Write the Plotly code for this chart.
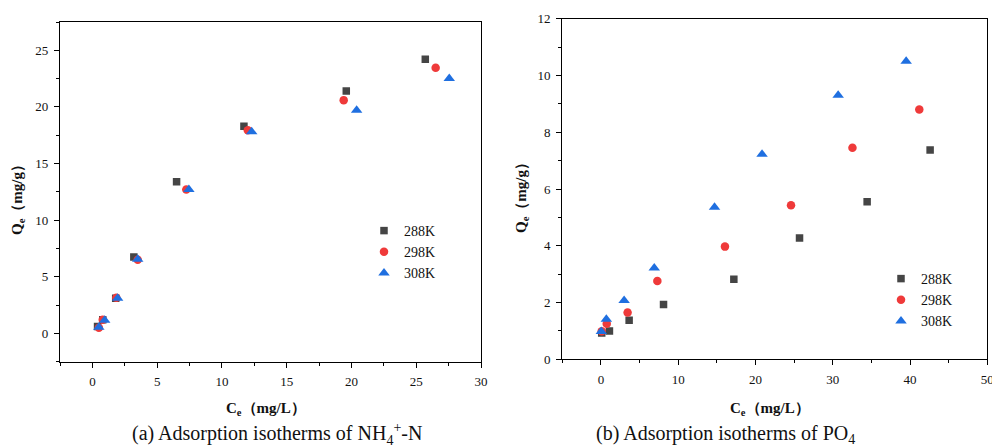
import plotly.graph_objects as go

# ---------------- data ----------------
series_names = ["288K", "298K", "308K"]

# (a) NH4+-N
nh4_ce_288 = [0.4, 0.8, 1.8, 3.2, 6.5, 11.7, 19.6, 25.7]
nh4_qe_288 = [0.6, 1.2, 3.1, 6.75, 13.4, 18.3, 21.4, 24.2]
nh4_ce_298 = [0.5, 0.8, 1.85, 3.5, 7.25, 12.0, 19.4, 26.5]
nh4_qe_298 = [0.5, 1.2, 3.15, 6.5, 12.7, 17.95, 20.6, 23.45]
nh4_ce_308 = [0.5, 0.95, 1.95, 3.5, 7.45, 12.3, 20.4, 27.55]
nh4_qe_308 = [0.55, 1.15, 3.1, 6.55, 12.7, 17.8, 19.7, 22.5]

# (b) PO4
po4_ce_288 = [0.1, 1.1, 3.65, 8.1, 17.2, 25.7, 34.45, 42.6]
po4_qe_288 = [0.93, 1.0, 1.38, 1.93, 2.82, 4.27, 5.55, 7.37]
po4_ce_298 = [0.1, 0.75, 3.45, 7.3, 16.05, 24.6, 32.55, 41.2]
po4_qe_298 = [0.99, 1.25, 1.65, 2.76, 3.97, 5.43, 7.45, 8.8]
po4_ce_308 = [0.05, 0.7, 3.0, 6.9, 14.7, 20.85, 30.7, 39.5]
po4_qe_308 = [0.98, 1.41, 2.07, 3.22, 5.36, 7.22, 9.3, 10.5]

colors = ["#454545", "#ef3a3a", "#1f6fe0"]
symbols = ["square", "circle", "triangle-up"]
sizes = [7.5, 8.5, 10]

W, H = 992, 448
FONT = "Liberation Serif, Times New Roman, serif"


def px_x(p):
    return p / W


def px_y(p):
    return 1 - p / H


fig = go.Figure()

left = [(nh4_ce_288, nh4_qe_288), (nh4_ce_298, nh4_qe_298), (nh4_ce_308, nh4_qe_308)]
right = [(po4_ce_288, po4_qe_288), (po4_ce_298, po4_qe_298), (po4_ce_308, po4_qe_308)]

for i, (xs, ys) in enumerate(left):
    fig.add_trace(go.Scatter(
        x=xs, y=ys, mode="markers", name=series_names[i],
        marker=dict(symbol=symbols[i], color=colors[i], size=sizes[i], line=dict(width=0)),
        xaxis="x", yaxis="y", legend="legend"))

for i, (xs, ys) in enumerate(right):
    fig.add_trace(go.Scatter(
        x=xs, y=ys, mode="markers", name=series_names[i],
        marker=dict(symbol=symbols[i], color=colors[i], size=sizes[i], line=dict(width=0)),
        xaxis="x2", yaxis="y2", legend="legend2"))

axis_common = dict(
    showgrid=False, zeroline=False, showline=True, linecolor="black", linewidth=1.2,
    mirror=True, ticks="outside", ticklen=5, tickwidth=1, tickcolor="black",
    tickfont=dict(family=FONT, size=13, color="#111"), automargin=False,
    ticklabelstandoff=3, ticklabeloverflow="allow",
)

fig.update_layout(
    width=W, height=H, template="none",
    paper_bgcolor="white", plot_bgcolor="white",
    margin=dict(l=0, r=0, t=0, b=0),
    showlegend=True,
    xaxis=dict(axis_common, domain=[px_x(60), px_x(481)], range=[-2.5, 30], tick0=0, dtick=5,
               minor=dict(dtick=2.5, ticklen=3, ticks="outside", tickcolor="black"), anchor="y"),
    yaxis=dict(axis_common, domain=[px_y(361.7), px_y(22)], range=[-2.5, 27.5], tick0=0, dtick=5,
               minor=dict(dtick=2.5, ticklen=3, ticks="outside", tickcolor="black"), anchor="x"),
    xaxis2=dict(axis_common, domain=[px_x(562.3), px_x(987.3)], range=[-5, 50], tick0=0, dtick=10,
                minor=dict(dtick=5, ticklen=3, ticks="outside", tickcolor="black"), anchor="y2"),
    yaxis2=dict(axis_common, domain=[px_y(359.3), px_y(18.7)], range=[0, 12], tick0=0, dtick=2,
                minor=dict(dtick=1, ticklen=3, ticks="outside", tickcolor="black"), anchor="x2"),
    legend=dict(x=px_x(364), y=px_y(215), xanchor="left", yanchor="top",
                bgcolor="rgba(0,0,0,0)", borderwidth=0, tracegroupgap=0,
                font=dict(family=FONT, size=14, color="#111")),
    legend2=dict(x=px_x(881), y=px_y(263), xanchor="left", yanchor="top",
                 bgcolor="rgba(0,0,0,0)", borderwidth=0, tracegroupgap=0,
                 font=dict(family=FONT, size=14, color="#111")),
)

ann = []
# y axis titles
ann.append(dict(text="<b>Q<sub>e</sub>（mg/g）</b>", x=px_x(18), y=px_y(196), xref="paper", yref="paper",
                textangle=-90, showarrow=False, font=dict(family=FONT, size=15, color="#111"),
                xanchor="center", yanchor="middle"))
ann.append(dict(text="<b>Q<sub>e</sub>（mg/g）</b>", x=px_x(522), y=px_y(194), xref="paper", yref="paper",
                textangle=-90, showarrow=False, font=dict(family=FONT, size=15, color="#111"),
                xanchor="center", yanchor="middle"))
# x axis titles
ann.append(dict(text="<b>C<sub>e</sub>（mg/L）</b>", x=px_x(266), y=px_y(409), xref="paper", yref="paper",
                showarrow=False, font=dict(family=FONT, size=15, color="#111"),
                xanchor="center", yanchor="middle"))
ann.append(dict(text="<b>C<sub>e</sub>（mg/L）</b>", x=px_x(770), y=px_y(409), xref="paper", yref="paper",
                showarrow=False, font=dict(family=FONT, size=15, color="#111"),
                xanchor="center", yanchor="middle"))
# captions
ann.append(dict(text="(a) Adsorption isotherms of NH<sub>4</sub><sup>+</sup>-N", x=px_x(277), y=px_y(434),
                xref="paper", yref="paper", showarrow=False,
                font=dict(family=FONT, size=20, color="#111"), xanchor="center", yanchor="middle"))
ann.append(dict(text="(b) Adsorption isotherms of PO<sub>4</sub>", x=px_x(725), y=px_y(434),
                xref="paper", yref="paper", showarrow=False,
                font=dict(family=FONT, size=20, color="#111"), xanchor="center", yanchor="middle"))
fig.update_layout(annotations=ann)

fig.write_html(
    "out.html",
    config={"displayModeBar": False},
    post_script="document.body.style.margin='0';document.body.style.padding='0';document.body.style.overflow='hidden';",
)
